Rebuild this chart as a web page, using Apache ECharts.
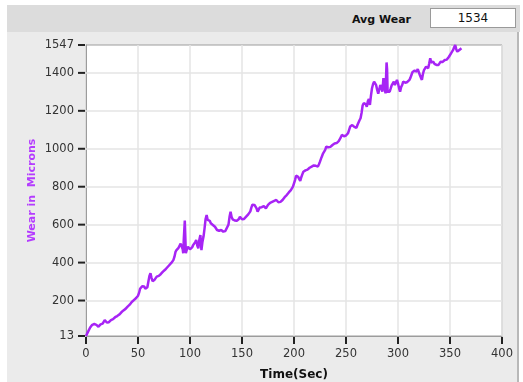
<!DOCTYPE html>
<html>
<head>
<meta charset="utf-8">
<script src="https://cdn.jsdelivr.net/npm/echarts@6/dist/echarts.min.js"></script>
<style>
  html, body { margin: 0; padding: 0; background: #ffffff; }
  body { width: 523px; height: 382px; position: relative; overflow: hidden; font-family: "DejaVu Sans", Verdana, sans-serif; }
  #topbar { position: absolute; left: 7px; top: 5px; width: 513px; height: 27px; background: #dcdcdc; }
  #panel { position: absolute; left: 7px; top: 32px; width: 510px; height: 350px; background: #ebebeb; border-right: 2px solid #b8b8b8; }
  #avgLabel { position: absolute; left: 352px; top: 13px; font-size: 11px; font-weight: bold; color: #111; }
  #avgBox { position: absolute; left: 430px; top: 8px; width: 86px; height: 20px; background: #fff; border: 1px solid #9a9a9a; box-sizing: border-box; font-size: 12px; color: #111; text-align: center; line-height: 18px; }
  #chart { position: absolute; left: 0; top: 0; width: 523px; height: 382px; }
</style>
</head>
<body>
<div id="topbar"></div>
<div id="panel"></div>
<div id="avgLabel">Avg Wear</div>
<div id="avgBox"></div>
<div id="chart"></div>
<script>
// Tool wear log: elapsed time (s) and measured wear (microns)
const avgWear = 1534;
const yTicks = [13, 200, 400, 600, 800, 1000, 1200, 1400, 1547];
const xTicks = [0, 50, 100, 150, 200, 250, 300, 350, 400];

const timeSec = [
  0,1,2,3,4,5,6,7,8,9,10,11,12,13,14,15,16,17,18,19,20,21,22,23,24,25,26,27,28,29,30,32,34,35,36,38,40,42,44,46,48,50,
  51,52,53,54,55,56,57,58,59,60,61,62,63,64,65,66,67,68,70,72,74,76,78,80,82,84,85,86,87,88,89,90,91,92,93,93.5,94,95,96,97,98,99,
  100,101,102,103,104,105,106,107,108,109,110,111,112,113,114,115,116,117,118,119,120,121,122,123,124,125,126,127,128,129,
  130,131,132,133,134,135,136,137,138,139,140,141,142,143,144,145,146,147,148,149,150,151,152,153,154,155,156,157,158,159,
  160,161,162,163,164,165,166,167,168,169,170,171,172,173,174,175,176,177,178,179,180,181,182,183,184,185,186,187,188,189,
  190,191,192,193,194,195,196,197,198,199,200,201,202,203,204,205,206,207,208,209,210,211,212,213,214,215,216,217,218,219,
  220,221,222,223,224,225,226,227,228,229,230,231,232,233,234,235,236,237,238,239,240,241,242,243,244,245,246,247,248,249,
  250,251,252,253,254,255,256,257,258,259,260,261,262,263,264,265,266,267,268,269,270,271,272,273,274,275,276,277,278,279,
  280,281,282,283,284,285,286,287,288,289,289.5,290,291,292,293,294,295,296,297,298,299,300,301,302,303,304,305,306,307,308,309,
  310,311,312,313,314,315,316,317,318,319,320,321,322,323,324,325,326,327,328,329,330,331,332,333,334,335,336,337,338,339,
  340,341,342,343,344,345,346,347,348,349,350,351,352,353,354,355,356,357,358,359,360,361
];

const wearMicrons = [
  13,22,36,45,58,68,72,78,76,80,72,66,62,68,74,71,78,88,97,90,84,80,86,92,97,95,102,108,112,115,118,126,138,141,148,156,168,178,192,202,212,225,
  240,262,270,275,282,274,262,256,270,300,330,344,320,302,300,310,318,326,330,340,352,362,374,386,398,413,430,455,466,472,478,484,500,510,470,449,520,622,450,470,484,478,
  470,466,480,492,502,508,519,490,475,520,545,466,510,537,580,630,651,625,616,620,607,612,598,594,589,580,572,563,568,575,
  572,566,563,560,566,578,589,600,640,668,640,628,625,622,618,620,616,630,642,635,628,625,630,636,642,648,654,660,670,690,
  705,713,704,695,686,668,660,690,695,692,695,698,690,686,694,704,713,715,718,720,721,725,728,730,724,718,713,720,726,730,
  738,745,752,756,762,770,774,782,790,800,818,835,858,862,852,844,830,850,865,879,884,886,888,890,895,900,904,906,910,912,
  914,910,908,906,918,932,948,962,976,986,994,1011,1004,1008,1002,1010,1014,1020,1024,1028,1029,1030,1036,1040,1046,1060,1073,1070,1066,1064,
  1070,1076,1082,1100,1117,1120,1125,1124,1115,1108,1110,1125,1134,1150,1161,1190,1228,1240,1248,1235,1222,1250,1262,1231,1280,1319,1340,1354,1363,1335,
  1310,1290,1283,1336,1320,1301,1372,1330,1292,1455,1420,1301,1305,1301,1318,1336,1345,1354,1336,1350,1363,1345,1320,1301,1325,1336,1354,1350,1348,1345,1352,
  1358,1363,1375,1390,1405,1415,1412,1410,1407,1420,1424,1389,1375,1363,1395,1415,1425,1433,1442,1424,1450,1477,1455,1450,1459,1448,1440,1442,1436,1442,
  1450,1459,1462,1458,1464,1468,1472,1470,1477,1485,1490,1503,1508,1521,1535,1547,1525,1512,1515,1521,1525,1530
];

document.getElementById('avgBox').textContent = String(avgWear);

const lineData = timeSec.map((t, i) => [t, wearMicrons[i]]);
const gridLevels = yTicks.slice(1, -1);
const yMin = yTicks[0];

const tickFont = { fontFamily: 'DejaVu Sans', fontSize: 11.5, color: '#333', formatter: v => String(v) };
const tickColor = '#222';

const chart = echarts.init(document.getElementById('chart'), null, { renderer: 'canvas' });
chart.setOption({
  animation: false,
  backgroundColor: 'transparent',
  grid: {
    left: 86, top: 45, right: 21, bottom: 46,
    outerBoundsMode: 'none', containLabel: false,
    show: true, backgroundColor: '#ffffff', borderColor: '#9c9c9c', borderWidth: 1
  },
  xAxis: {
    type: 'value', min: 0, max: 400, interval: 50,
    name: 'Time(Sec)', nameLocation: 'middle', nameGap: 33,
    nameTextStyle: { fontFamily: 'DejaVu Sans', fontSize: 12, fontWeight: 'bold', color: '#111' },
    axisLine: { show: true, onZero: false, lineStyle: { color: '#9c9c9c' } },
    axisTick: { show: false },
    axisLabel: Object.assign({ margin: 12 }, tickFont),
    splitLine: { show: true, lineStyle: { color: '#e4e4e4', width: 1.5 } }
  },
  yAxis: {
    type: 'value', min: 13, max: 1547,
    name: 'Wear in  Microns', nameLocation: 'middle', nameGap: 48, nameRotate: 90,
    nameMoveOverlap: false,
    nameTextStyle: { fontFamily: 'DejaVu Sans', fontSize: 11, fontWeight: 'bold', color: '#b43cff' },
    axisLine: { show: true, lineStyle: { color: '#9c9c9c' } },
    axisTick: { show: false },
    axisLabel: Object.assign({ margin: 12, customValues: yTicks }, tickFont),
    splitLine: { show: false }
  },
  series: [{
    type: 'line',
    data: lineData,
    showSymbol: false,
    lineStyle: { color: '#a724f5', width: 2.5 },
    z: 3,
    markLine: {
      silent: true, symbol: 'none', label: { show: false },
      lineStyle: { color: '#e4e4e4', width: 1.5, type: 'solid' },
      data: gridLevels.map(v => ({ yAxis: v })),
      z: 1
    }
  }, {
    // outward tick dashes beside each wear label
    type: 'scatter',
    silent: true,
    clip: false,
    data: yTicks.map(v => [0, v]),
    symbol: 'rect',
    symbolSize: [7, 2],
    symbolOffset: [-4.5, 0],
    itemStyle: { color: tickColor, opacity: 1 },
    z: 10
  }, {
    // tick marks under each time label
    type: 'scatter',
    silent: true,
    clip: false,
    data: xTicks.map(v => [v, yMin]),
    symbol: 'rect',
    symbolSize: [2, 7],
    symbolOffset: [0, 4.5],
    itemStyle: { color: tickColor, opacity: 1 },
    z: 10
  }]
});
</script>
</body>
</html>
